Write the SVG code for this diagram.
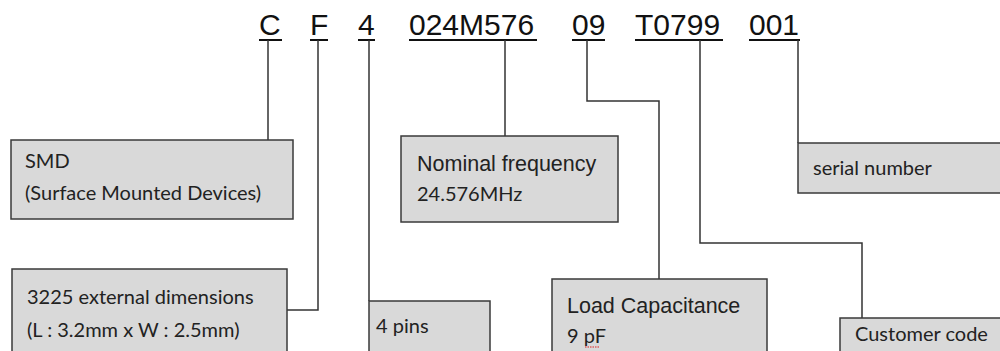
<svg xmlns="http://www.w3.org/2000/svg" width="1000" height="351" viewBox="0 0 1000 351">
<style>
.code{font-family:"Liberation Sans",Arial,sans-serif;font-size:30px;fill:#111}
.ul{stroke:#111;stroke-width:2;fill:none}
.box{fill:#d9d9d9;stroke:#3a3a3a;stroke-width:1.5}
.c{font-family:Lato,"Open Sans",sans-serif;font-size:20px;fill:#222}
.a{font-family:"Liberation Sans",Arial,sans-serif;font-size:21.5px;fill:#222}
.wire{stroke:#333;stroke-width:1.5;fill:none}
</style>
<rect width="1000" height="351" fill="#fff"/>
<g id="code">
<text class="code" x="259" y="35">C</text>
<text class="code" x="310" y="35">F</text>
<text class="code" x="358" y="35">4</text>
<text class="code" x="409" y="35">024M576</text>
<text class="code" x="572" y="35">09</text>
<text class="code" x="635" y="35">T0799</text>
<text class="code" x="749" y="35">001</text>
<path class="ul" d="M259 40H282M310 40H328M358 40H375M409 40H537M572 40H605M635 40H723M749 40H800"/>
</g>
<g id="connectors">
<path class="wire" d="M268 40V140"/>
<path class="wire" d="M318 40V310H287"/>
<path class="wire" d="M369 40V301"/>
<path class="wire" d="M505 40V136"/>
<path class="wire" d="M587 40V101H659V279"/>
<path class="wire" d="M700 40V243H862V318"/>
<path class="wire" d="M798 40V143"/>
</g>
<g id="smd">
<rect class="box" x="11" y="140" width="282" height="79"/>
<text class="c" x="25" y="168">SMD</text>
<text class="c" x="25" y="200">(Surface Mounted Devices)</text>
</g>
<g id="dimensions">
<rect class="box" x="12" y="269" width="275" height="90"/>
<text class="c" x="27" y="304">3225 external dimensions</text>
<text class="c" x="27" y="337">(L : 3.2mm x W : 2.5mm)</text>
</g>
<g id="pins">
<rect class="box" x="369" y="301" width="121" height="60"/>
<text class="c" x="376" y="333">4 pins</text>
</g>
<g id="frequency">
<rect class="box" x="401" y="136" width="217" height="86"/>
<text class="a" x="417" y="171">Nominal frequency</text>
<text class="c" x="417" y="201">24.576MHz</text>
</g>
<g id="capacitance">
<rect class="box" x="552" y="279" width="215" height="80"/>
<text class="a" x="567" y="313">Load Capacitance</text>
<text class="c" x="567" y="343">9 pF</text>
<path d="M585 347h14" stroke="#d22" stroke-width="1.2" stroke-dasharray="1.5 1"/>
</g>
<g id="customer">
<rect class="box" x="840" y="318" width="170" height="50"/>
<text class="c" x="855" y="341">Customer code</text>
</g>
<g id="serial">
<rect class="box" x="798" y="143" width="212" height="50"/>
<text class="c" x="813" y="175">serial number</text>
</g>
</svg>
